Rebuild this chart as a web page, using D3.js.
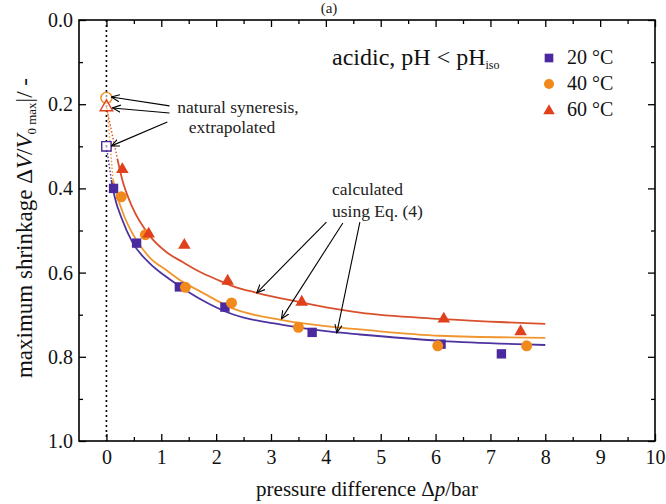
<!DOCTYPE html>
<html>
<head>
<meta charset="utf-8">
<script src="https://cdn.jsdelivr.net/npm/d3@7"></script>
<style>
  body { margin: 0; background: #fff; }
</style>
</head>
<body>
<svg id="chart"></svg>
<script>
// measured points, pressure difference (bar) and shrinkage
var p20 = [0.13, 0.55, 1.33, 2.16, 3.75, 6.1, 7.2];
var v20 = [0.40, 0.53, 0.634, 0.682, 0.742, 0.77, 0.793];
var p40 = [0.27, 0.71, 1.44, 2.28, 3.5, 6.04, 7.66];
var v40 = [0.42, 0.51, 0.635, 0.672, 0.73, 0.774, 0.774];
var p60 = [0.29, 0.77, 1.42, 2.21, 3.56, 6.15, 7.55];
var v60 = [0.355, 0.508, 0.535, 0.62, 0.67, 0.71, 0.74];

// extrapolated natural syneresis at dp = 0 (20, 40, 60 °C)
var extrap = [0.30, 0.185, 0.207];

// calculated curves (Eq. 4)
var c20x = [0.09, 0.15, 0.29, 0.47, 0.78, 1.09, 1.39, 1.70, 2.30, 3.21, 4.12, 4.62, 6.08, 8.0];
var c20y = [0.38, 0.42, 0.475, 0.527, 0.577, 0.610, 0.637, 0.662, 0.699, 0.724, 0.741, 0.747, 0.762, 0.772];
var c40x = [0.12, 0.18, 0.33, 0.47, 0.78, 1.09, 1.39, 1.70, 2.30, 3.21, 4.12, 4.62, 6.08, 8.0];
var c40y = [0.38, 0.411, 0.468, 0.506, 0.563, 0.594, 0.622, 0.644, 0.685, 0.713, 0.729, 0.735, 0.750, 0.755];
var c60x = [0.20, 0.29, 0.47, 0.78, 1.09, 1.39, 1.70, 2.06, 2.30, 2.74, 3.52, 4.12, 4.62, 6.08, 8.0];
var c60y = [0.33, 0.38, 0.444, 0.511, 0.551, 0.575, 0.598, 0.619, 0.632, 0.648, 0.670, 0.685, 0.695, 0.710, 0.722];

var xMajor = [0, 1, 2, 3, 4, 5, 6, 7, 8, 9, 10];
var xMinor = [0.5, 1.5, 2.5, 3.5, 4.5, 5.5, 6.5, 7.5, 8.5, 9.5];
var yMajor = [0, 0.2, 0.4, 0.6, 0.8, 1.0];
var yMinor = [0.1, 0.3, 0.5, 0.7, 0.9];

var legendLabels = ["20 °C", "40 °C", "60 °C"];

var FONT = "'Liberation Serif', 'DejaVu Serif', 'Times New Roman', Times, serif";
var PURPLE = "#4a2a9e", ORANGE = "#f08a1c", RED = "#e0401c";
var LPURPLE = "#4d33a0", LORANGE = "#f0962e", LRED = "#d9502c";

var width = 666, height = 504;
var svg = d3.select("#chart").attr("width", width).attr("height", height)
  .attr("font-family", FONT).style("font-family", FONT);

var x = d3.scaleLinear().domain([-0.5, 10]).range([79, 655]);
var y = d3.scaleLinear().domain([0, 1]).range([20, 441]);

function txt(xp, yp, size, anchor) {
  return svg.append("text").attr("x", xp).attr("y", yp)
    .attr("text-anchor", anchor || "start")
    .attr("font-family", FONT).style("font-family", FONT)
    .style("font-size", size + "px").attr("fill", "#111");
}

// ticks, all inward
function addAxis(axis, tr, labels) {
  var g = svg.append("g").attr("transform", tr).call(axis)
    .attr("font-family", FONT);
  g.select(".domain").remove();
  g.selectAll("line").attr("stroke", "#000").attr("stroke-width", 1.3);
  g.selectAll("text").style("font-size", "20px")
    .style("font-family", FONT).attr("fill", "#111");
  if (!labels) g.selectAll("text").remove();
  return g;
}
addAxis(d3.axisBottom(x).tickValues(xMajor).tickSize(-7).tickPadding(9).tickFormat(d3.format("d")), "translate(0,441)", true);
addAxis(d3.axisBottom(x).tickValues(xMinor).tickSize(-4), "translate(0,441)", false);
addAxis(d3.axisTop(x).tickValues(xMajor).tickSize(-7), "translate(0,20)", false);
addAxis(d3.axisTop(x).tickValues(xMinor).tickSize(-4), "translate(0,20)", false);
addAxis(d3.axisLeft(y).tickValues(yMajor).tickSize(-7).tickPadding(6).tickFormat(d3.format(".1f")), "translate(79,0)", true);
addAxis(d3.axisLeft(y).tickValues(yMinor).tickSize(-4), "translate(79,0)", false);
addAxis(d3.axisRight(y).tickValues(yMajor).tickSize(-7), "translate(655,0)", false);
addAxis(d3.axisRight(y).tickValues(yMinor).tickSize(-4), "translate(655,0)", false);

svg.append("rect")
  .attr("x", x(-0.5)).attr("y", y(0))
  .attr("width", x(10) - x(-0.5)).attr("height", y(1) - y(0))
  .attr("fill", "none").attr("stroke", "#000").attr("stroke-width", 1.6);

// dotted line at dp = 0
svg.append("line")
  .attr("x1", x(0)).attr("x2", x(0)).attr("y1", y(0)).attr("y2", y(1))
  .attr("stroke", "#000").attr("stroke-width", 1.6).attr("stroke-dasharray", "2,3");

var series = [
  { px: p20, py: v20, cx: c20x, cy: c20y, col: PURPLE, line: LPURPLE, sym: d3.symbolSquare, size: 88, ex: extrap[0] },
  { px: p40, py: v40, cx: c40x, cy: c40y, col: ORANGE, line: LORANGE, sym: d3.symbolCircle, size: 95, ex: extrap[1] },
  { px: p60, py: v60, cx: c60x, cy: c60y, col: RED, line: LRED, sym: d3.symbolTriangle, size: 68, ex: extrap[2] }
];

var line = d3.line()
  .x(function (d) { return x(d[0]); })
  .y(function (d) { return y(d[1]); })
  .curve(d3.curveMonotoneX);

// dotted extrapolations to dp = 0
series.forEach(function (s) {
  svg.append("line")
    .attr("x1", x(0)).attr("y1", y(s.ex))
    .attr("x2", x(s.cx[0])).attr("y2", y(s.cy[0]))
    .attr("stroke", s.line).attr("stroke-width", 1.4).attr("stroke-dasharray", "1.5,2");
});

// calculated curves
series.forEach(function (s) {
  svg.append("path")
    .attr("d", line(d3.zip(s.cx, s.cy)))
    .attr("fill", "none").attr("stroke", s.line).attr("stroke-width", 1.8);
});

// measured points
series.forEach(function (s) {
  svg.append("g").selectAll("path")
    .data(d3.zip(s.px, s.py))
    .enter().append("path")
    .attr("d", d3.symbol().type(s.sym).size(s.size))
    .attr("transform", function (d) { return "translate(" + x(d[0]) + "," + y(d[1]) + ")"; })
    .attr("fill", s.col);
  // open marker at dp = 0
  svg.append("path")
    .attr("d", d3.symbol().type(s.sym).size(s.size))
    .attr("transform", "translate(" + x(0) + "," + y(s.ex) + ")")
    .attr("fill", "#fff").attr("fill-opacity", 0.6)
    .attr("stroke", s.col).attr("stroke-width", 1.4);
});

// arrows
svg.append("defs").append("marker")
  .attr("id", "arr").attr("viewBox", "0 -5 10 10")
  .attr("refX", 9).attr("refY", 0)
  .attr("markerWidth", 9).attr("markerHeight", 9)
  .attr("markerUnits", "userSpaceOnUse")
  .attr("orient", "auto")
  .append("path").attr("d", "M0,-4L9,0L0,4")
  .attr("fill", "none").attr("stroke", "#000").attr("stroke-width", 1.2);

var arrows = [
  [1.15, 0.204, 0.09, 0.183],
  [1.15, 0.221, 0.11, 0.209],
  [1.11, 0.242, 0.09, 0.299],
  [4.01, 0.480, 2.74, 0.648],
  [4.31, 0.482, 3.19, 0.710],
  [4.62, 0.480, 4.20, 0.743]
];
svg.append("g").selectAll("line").data(arrows).enter().append("line")
  .attr("x1", function (d) { return x(d[0]); })
  .attr("y1", function (d) { return y(d[1]); })
  .attr("x2", function (d) { return x(d[2]); })
  .attr("y2", function (d) { return y(d[3]); })
  .attr("stroke", "#000").attr("stroke-width", 1.1)
  .attr("marker-end", "url(#arr)");

// annotation texts
txt(238, 113, 17.5, "middle").attr("fill", "#222").text("natural syneresis,");
txt(232, 133, 17.5, "middle").attr("fill", "#222").text("extrapolated");
txt(332, 195, 17.5).attr("fill", "#222").text("calculated");
txt(332, 217, 17.5).attr("fill", "#222").text("using Eq. (4)");

var cond = txt(332, 65, 24);
cond.append("tspan").text("acidic, pH < pH");
cond.append("tspan").attr("dy", 4).style("font-size", "12px").text("iso");

// legend
series.forEach(function (s, i) {
  var ly = 58 + i * 26;
  svg.append("path")
    .attr("d", d3.symbol().type(s.sym).size(s.size * 0.85))
    .attr("transform", "translate(549," + (i === 2 ? ly + 1 : ly) + ")")
    .attr("fill", s.col);
  txt(567, ly + 6, 20).text(legendLabels[i]);
});

// title
txt(329, 13, 15, "middle").attr("fill", "#222").text("(a)");

// axis titles
var xt = txt(367, 496, 21, "middle");
xt.append("tspan").text("pressure difference Δ");
xt.append("tspan").style("font-style", "italic").text("p");
xt.append("tspan").text("/bar");

var yt = svg.append("text").attr("text-anchor", "middle")
  .attr("transform", "translate(32,228)rotate(-90)")
  .attr("font-family", FONT).style("font-family", FONT)
  .style("font-size", "23px").attr("fill", "#111");
yt.append("tspan").text("maximum shrinkage Δ");
yt.append("tspan").style("font-style", "italic").text("V");
yt.append("tspan").text("/");
yt.append("tspan").style("font-style", "italic").text("V");
yt.append("tspan").attr("dy", 4).style("font-size", "13px").text("0 max");
yt.append("tspan").attr("dy", -4).text("|/ -");
</script>
</body>
</html>
